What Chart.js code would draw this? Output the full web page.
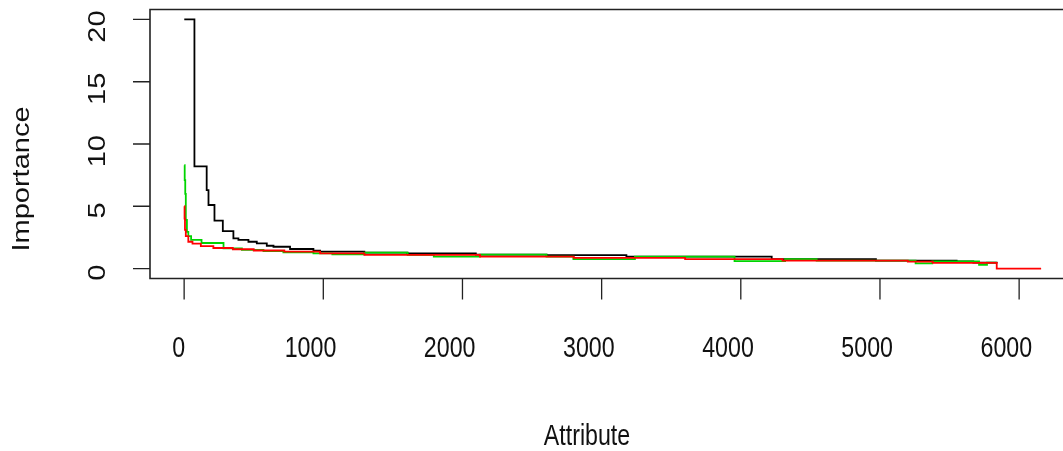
<!DOCTYPE html>
<html>
<head>
<meta charset="utf-8">
<script src="https://cdn.jsdelivr.net/npm/chart.js@4/dist/chart.umd.min.js"></script>
<style>
  html, body { margin: 0; padding: 0; background: #fff; overflow: hidden; }
  #wrap { width: 1063px; height: 451px; overflow: hidden; }
</style>
</head>
<body>
<div id="wrap"><canvas id="chart" width="1090" height="451"></canvas></div>
<script>
// Step curves: each point is where a new level starts (attribute index, importance)
const blackX = [1, 74, 162, 175, 218, 278, 354, 390, 462, 522, 594, 642, 761, 929, 977, 1295, 1604, 2096, 2604, 3178, 4222, 4971, 5551, 5671, 5845];
const blackY = [20, 8.2, 6.3, 5.1, 3.85, 3.0, 2.42, 2.3, 2.15, 2.02, 1.83, 1.75, 1.57, 1.43, 1.35, 1.27, 1.22, 1.11, 1.08, 0.95, 0.76, 0.63, 0.57, 0.47, 0.47];

const greenX = [1, 4, 8, 12, 20, 30, 50, 125, 283, 415, 570, 713, 929, 1065, 1295, 1606, 1794, 2126, 2604, 2797, 3239, 3955, 4318, 4545, 5256, 5376, 5552, 5712, 5769, 5839];
const greenY = [8.3, 7.1, 6.0, 3.9, 2.95, 2.6, 2.3, 2.05, 1.62, 1.5, 1.4, 1.3, 1.22, 1.14, 1.27, 1.1, 0.95, 1.11, 0.95, 0.76, 0.95, 0.6, 0.76, 0.63, 0.42, 0.57, 0.57, 0.3, 0.47, 0.47];

const redX = [1, 3, 6, 12, 30, 60, 120, 210, 350, 500, 720, 977, 1295, 2126, 2800, 3600, 4300, 5200, 5380, 5839, 6158];
const redY = [5.0, 4.0, 3.1, 2.6, 2.15, 2.0, 1.8, 1.65, 1.55, 1.45, 1.35, 1.22, 1.1, 0.95, 0.85, 0.76, 0.63, 0.55, 0.45, 0, 0];

const xTicks = [0, 1000, 2000, 3000, 4000, 5000, 6000];
const yTicks = [0, 5, 10, 15, 20];

const FONT = '29px "Liberation Sans", Arial, sans-serif';
const SQUASH = 0.8;

function toPoints(xs, ys) {
  return xs.map((x, i) => ({ x: x, y: ys[i] }));
}

// draws text squashed horizontally like the reference, optionally rotated
function drawText(ctx, str, x, y, rotated) {
  ctx.save();
  ctx.translate(x, y);
  ctx.scale(SQUASH, 1);
  if (rotated) ctx.rotate(-Math.PI / 2);
  ctx.fillText(str, 0, 0);
  ctx.restore();
}

const axesPlugin = {
  id: "rAxes",
  afterDraw(chart) {
    const ctx = chart.ctx;
    const a = chart.chartArea;
    const xs = chart.scales.x;
    const ys = chart.scales.y;

    ctx.save();
    ctx.strokeStyle = "#222";
    ctx.lineWidth = 1.6;
    // box (right side lies past the window edge)
    ctx.beginPath();
    ctx.moveTo(a.right, a.top);
    ctx.lineTo(a.left, a.top);
    ctx.lineTo(a.left, a.bottom);
    ctx.lineTo(a.right, a.bottom);
    ctx.stroke();

    ctx.lineWidth = 1.3;
    ctx.beginPath();
    xTicks.forEach((t) => {
      const px = xs.getPixelForValue(t);
      ctx.moveTo(px, a.bottom);
      ctx.lineTo(px, a.bottom + 21);
    });
    yTicks.forEach((t) => {
      const py = ys.getPixelForValue(t);
      ctx.moveTo(a.left, py);
      ctx.lineTo(a.left - 17, py);
    });
    ctx.stroke();

    ctx.fillStyle = "#111";
    ctx.font = FONT;
    ctx.textAlign = "center";
    ctx.textBaseline = "alphabetic";

    xTicks.forEach((t) => {
      const s = String(t);
      const w = ctx.measureText(s).width * SQUASH;
      const px = xs.getPixelForValue(t) - 3 - 0.19 * w;
      drawText(ctx, s, px, 357, false);
    });
    yTicks.forEach((t) => {
      const s = String(t);
      const w = ctx.measureText(s).width;
      const py = ys.getPixelForValue(t) + 1 + 0.19 * w;
      drawText(ctx, s, 105, py, true);
    });

    drawText(ctx, "Attribute", 587, 445, false);
    drawText(ctx, "Importance", 28.5, 179, true);
    ctx.restore();
  },
};

new Chart(document.getElementById("chart"), {
  type: "line",
  data: {
    datasets: [
      {
        label: "black",
        data: toPoints(blackX, blackY),
        borderColor: "#000000",
        order: 2,
      },
      {
        label: "green",
        data: toPoints(greenX, greenY),
        borderColor: "#00d400",
        order: 1,
      },
      {
        label: "red",
        data: toPoints(redX, redY),
        borderColor: "#ff0000",
        order: 0,
      },
    ],
  },
  options: {
    responsive: false,
    animation: false,
    devicePixelRatio: 1,
    layout: {
      padding: { left: 150, top: 9.5, right: 14.6, bottom: 172.5 },
    },
    elements: {
      line: { borderWidth: 1.8, stepped: "before", fill: false },
      point: { radius: 0 },
    },
    plugins: {
      legend: { display: false },
      tooltip: { enabled: false },
    },
    scales: {
      x: { type: "linear", display: false, min: -245.3, max: 6404.3 },
      y: { type: "linear", display: false, min: -0.8, max: 20.8 },
    },
  },
  plugins: [axesPlugin],
});
</script>
</body>
</html>
